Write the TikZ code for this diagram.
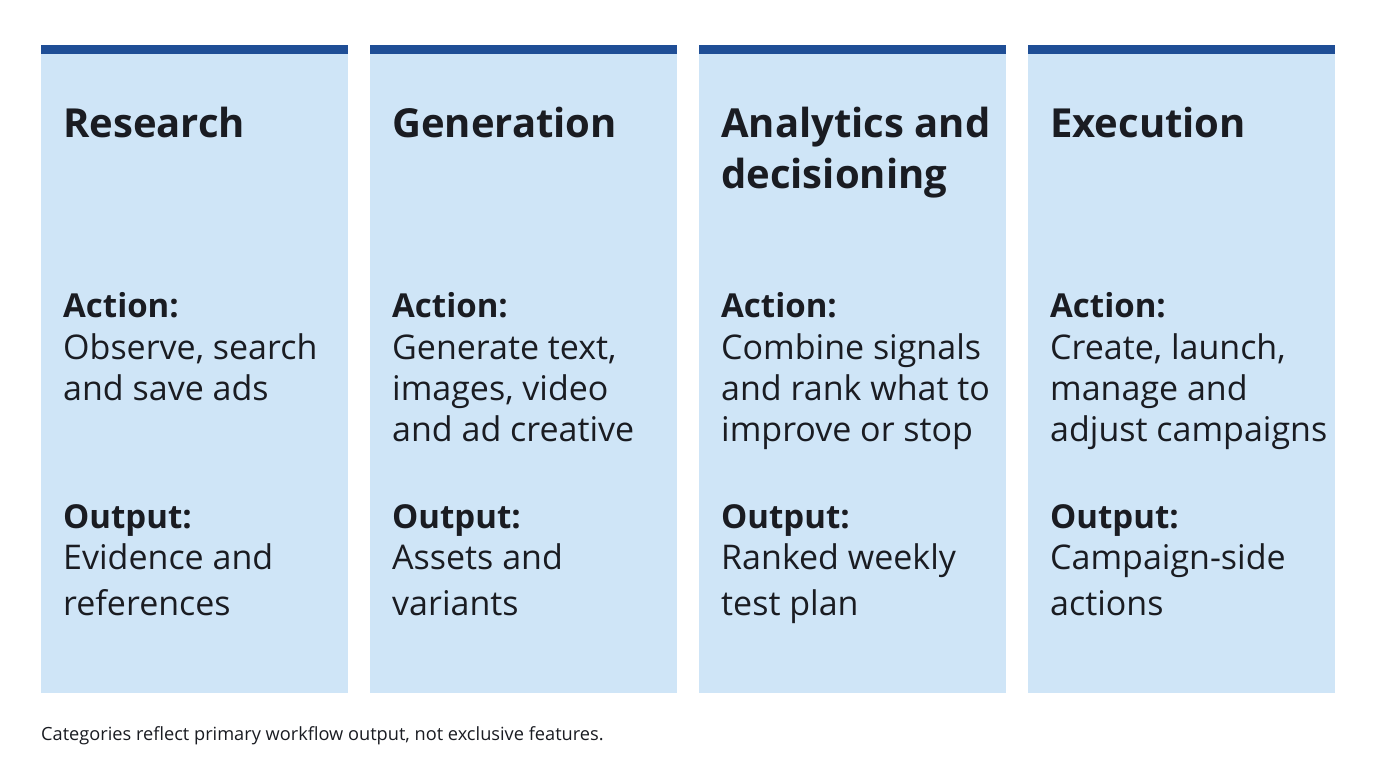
\documentclass[tikz,border=0pt]{standalone}
\usepackage{fontspec}
\setmainfont{Open Sans}
\definecolor{barblue}{HTML}{1F4E96}
\definecolor{boxblue}{HTML}{CFE5F7}
\definecolor{ink}{HTML}{1A1C22}
\begin{document}
\begin{tikzpicture}[x=1pt,y=-1pt,
  box/.style={fill=boxblue,draw=none},
  bar/.style={fill=barblue,draw=none},
  ttl/.style={anchor=base west,inner sep=0,text=ink,font=\fontsize{40}{50}\selectfont\bfseries},
  hd/.style={anchor=base west,inner sep=0,text=ink,font=\fontsize{33}{41}\selectfont\bfseries},
  bd/.style={anchor=base west,inner sep=0,text=ink,font=\fontsize{34}{41}\selectfont},
  note/.style={anchor=base west,inner sep=0,text=ink,font=\fontsize{18.2}{20}\selectfont}]
\useasboundingbox (0,0) rectangle (1376,768);
\fill[white] (0,0) rectangle (1376,768);
\foreach \x/\n in {41/a,370/b,699/c,1028/d}{
  \fill[box] (\x,54) rectangle ++(307,639);
  \fill[bar] (\x,45) rectangle ++(307,9);
}
\node[ttl] (t1) at (63,137) {Research};
\node[ttl] (t2) at (392,137) {Generation};
\node[ttl] (t3) at (721,137) {Analytics and};
\node[ttl] (t3b) at (721,188) {decisioning};
\node[ttl] (t4) at (1050,137) {Execution};
\foreach \x/\n in {63/1,392/2,721/3,1050/4}{
  \node[hd] (a\n) at (\x,317) {Action:};
  \node[hd] (o\n) at (\x,528) {Output:};
}
\node[bd] (b1a) at (63,359) {Observe, search};
\node[bd] (b1b) at (63,400) {and save ads};
\node[bd] (b2a) at (392,359) {Generate text,};
\node[bd] (b2b) at (392,400) {images, video};
\node[bd] (b2c) at (392,441) {and ad creative};
\node[bd] (b3a) at (721,359) {Combine signals};
\node[bd] (b3b) at (721,400) {and rank what to};
\node[bd] (b3c) at (721,441) {improve or stop};
\node[bd] (b4a) at (1050,359) {Create, launch,};
\node[bd] (b4b) at (1050,400) {manage and};
\node[bd] (b4c) at (1050,441) {adjust campaigns};
\node[bd] (p1a) at (63,569) {Evidence and};
\node[bd] (p1b) at (63,615) {references};
\node[bd] (p2a) at (392,569) {Assets and};
\node[bd] (p2b) at (392,615) {variants};
\node[bd] (p3a) at (721,569) {Ranked weekly};
\node[bd] (p3b) at (721,615) {test plan};
\node[bd] (p4a) at (1050,569) {Campaign-side};
\node[bd] (p4b) at (1050,615) {actions};
\node[note] (n) at (41,740) {Categories reflect primary workflow output, not exclusive features.};
\end{tikzpicture}
\end{document}
